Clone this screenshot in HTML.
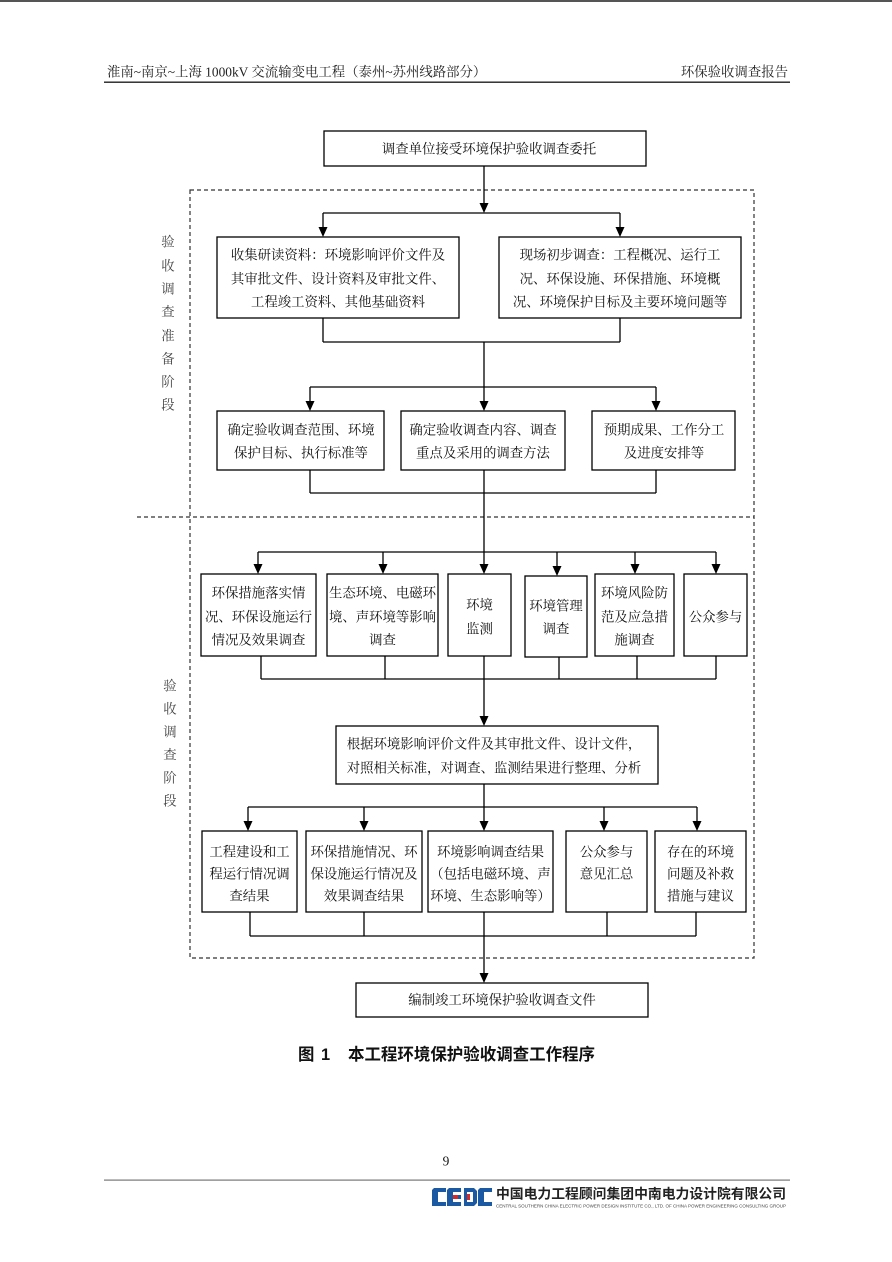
<!DOCTYPE html>
<html><head><meta charset="utf-8">
<style>
html,body{margin:0;padding:0;background:#fff;}
svg{display:block;}
.t{font-family:"Liberation Serif","Noto Serif CJK SC",serif;font-size:13.4px;fill:#111;}
.s{font-family:"Liberation Serif","Noto Serif CJK SC",serif;font-size:13.4px;fill:#444;}
.h{font-family:"Liberation Serif","Noto Serif CJK SC",serif;font-size:13.4px;fill:#222;}
.c{font-family:"Liberation Sans","Noto Sans CJK SC",sans-serif;font-size:16.4px;font-weight:bold;fill:#111;}
.b{fill:#fff;stroke:#000;stroke-width:1.3;}
.l{fill:none;stroke:#000;stroke-width:1.3;}
</style></head><body>
<svg width="892" height="1262" viewBox="0 0 892 1262" xmlns="http://www.w3.org/2000/svg">
<rect x="0" y="0" width="892" height="2" fill="#555"/>

<!-- header -->
<text class="h" x="107" y="72" dominant-baseline="central">淮南~南京~上海 1000kV 交流输变电工程（泰州~苏州线路部分）</text>
<text class="h" x="788" y="72" dominant-baseline="central" text-anchor="end">环保验收调查报告</text>
<rect x="104" y="81.5" width="686" height="1.4" fill="#222"/>

<!-- dashed regions -->
<rect x="190" y="190" width="564" height="768" fill="none" stroke="#333" stroke-width="1.2" stroke-dasharray="4 3"/>
<path d="M137 517 H754" fill="none" stroke="#333" stroke-width="1.2" stroke-dasharray="4 3"/>

<!-- stage labels -->
<g class="s" text-anchor="middle" dominant-baseline="central">
<text x="168" y="242" dominant-baseline="central">验</text>
<text x="168" y="266" dominant-baseline="central">收</text>
<text x="168" y="289" dominant-baseline="central">调</text>
<text x="168" y="312" dominant-baseline="central">查</text>
<text x="168" y="336" dominant-baseline="central">准</text>
<text x="168" y="359" dominant-baseline="central">备</text>
<text x="168" y="382" dominant-baseline="central">阶</text>
<text x="168" y="405" dominant-baseline="central">段</text>
<text x="170" y="686" dominant-baseline="central">验</text>
<text x="170" y="709" dominant-baseline="central">收</text>
<text x="170" y="732" dominant-baseline="central">调</text>
<text x="170" y="755" dominant-baseline="central">查</text>
<text x="170" y="778" dominant-baseline="central">阶</text>
<text x="170" y="801" dominant-baseline="central">段</text>
</g>

<!-- connectors -->
<path class="l" d="M484 166 V205 M323 213 H620 M323 213 V229 M620 213 V229
M323 318 V342 M620 318 V342 M323 342 H620 M484 342 V403 M310 387 H656 M310 387 V403 M656 387 V403
M310 470 V493 M656 470 V493 M310 493 H656 M484 470 V566 M258 552 H716
M258 552 V566 M383 552 V566 M557 552 V568 M635 552 V566 M716 552 V566
M261 656 V679 M385 656 V679 M484 656 V718 M559 657 V679 M637 656 V679 M716 656 V679 M261 679 H716
M484 784 V823 M248 807 H697 M248 807 V823 M364 807 V823 M604 807 V823 M697 807 V823
M250 912 V936 M364 912 V936 M484 912 V975 M607 912 V936 M696 912 V936 M250 936 H696"/>

<!-- arrowheads -->
<g fill="#000">
<polygon points="479.5,203 488.5,203 484,213"/>
<polygon points="318.5,227 327.5,227 323,237"/>
<polygon points="615.5,227 624.5,227 620,237"/>
<polygon points="305.5,401 314.5,401 310,411"/>
<polygon points="479.5,401 488.5,401 484,411"/>
<polygon points="651.5,401 660.5,401 656,411"/>
<polygon points="253.5,564 262.5,564 258,574"/>
<polygon points="378.5,564 387.5,564 383,574"/>
<polygon points="479.5,564 488.5,564 484,574"/>
<polygon points="552.5,566 561.5,566 557,576"/>
<polygon points="630.5,564 639.5,564 635,574"/>
<polygon points="711.5,564 720.5,564 716,574"/>
<polygon points="479.5,716 488.5,716 484,726"/>
<polygon points="243.5,821 252.5,821 248,831"/>
<polygon points="359.5,821 368.5,821 364,831"/>
<polygon points="479.5,821 488.5,821 484,831"/>
<polygon points="599.5,821 608.5,821 604,831"/>
<polygon points="692.5,821 701.5,821 697,831"/>
<polygon points="479.5,973 488.5,973 484,983"/>
</g>

<!-- boxes -->
<rect class="b" x="324" y="131" width="322" height="35"/>
<rect class="b" x="217" y="237" width="242" height="81"/>
<rect class="b" x="499" y="237" width="242" height="81"/>
<rect class="b" x="217" y="411" width="167" height="59"/>
<rect class="b" x="401" y="411" width="164" height="59"/>
<rect class="b" x="592" y="411" width="143" height="59"/>
<rect class="b" x="201" y="574" width="115" height="82"/>
<rect class="b" x="327" y="574" width="111" height="82"/>
<rect class="b" x="448" y="574" width="63" height="82"/>
<rect class="b" x="525" y="576" width="62" height="81"/>
<rect class="b" x="595" y="574" width="79" height="82"/>
<rect class="b" x="684" y="574" width="63" height="82"/>
<rect class="b" x="336" y="726" width="322" height="58"/>
<rect class="b" x="202" y="831" width="95" height="81"/>
<rect class="b" x="306" y="831" width="116" height="81"/>
<rect class="b" x="428" y="831" width="125" height="81"/>
<rect class="b" x="566" y="831" width="81" height="81"/>
<rect class="b" x="655" y="831" width="91" height="81"/>
<rect class="b" x="356" y="983" width="292" height="34"/>

<!-- box text -->
<g class="t" text-anchor="middle">
<text x="489" y="149" dominant-baseline="central">调查单位接受环境保护验收调查委托</text>

<text x="338" y="255" dominant-baseline="central">收集研读资料：环境影响评价文件及</text>
<text x="338" y="279" dominant-baseline="central">其审批文件、设计资料及审批文件、</text>
<text x="338" y="302" dominant-baseline="central">工程竣工资料、其他基础资料</text>

<text x="620" y="255" dominant-baseline="central">现场初步调查：工程概况、运行工</text>
<text x="620" y="279" dominant-baseline="central">况、环保设施、环保措施、环境概</text>
<text x="620" y="302" dominant-baseline="central">况、环境保护目标及主要环境问题等</text>

<text x="301" y="430" dominant-baseline="central">确定验收调查范围、环境</text>
<text x="301" y="453" dominant-baseline="central">保护目标、执行标准等</text>
<text x="483" y="430" dominant-baseline="central">确定验收调查内容、调查</text>
<text x="483" y="453" dominant-baseline="central">重点及采用的调查方法</text>
<text x="664" y="430" dominant-baseline="central">预期成果、工作分工</text>
<text x="664" y="453" dominant-baseline="central">及进度安排等</text>

<text x="258.5" y="593" dominant-baseline="central">环保措施落实情</text>
<text x="258.5" y="617" dominant-baseline="central">况、环保设施运行</text>
<text x="258.5" y="640" dominant-baseline="central">情况及效果调查</text>
<text x="382.5" y="593" dominant-baseline="central">生态环境、电磁环</text>
<text x="382.5" y="617" dominant-baseline="central">境、声环境等影响</text>
<text x="382.5" y="640" dominant-baseline="central">调查</text>
<text x="479.5" y="605" dominant-baseline="central">环境</text>
<text x="479.5" y="629" dominant-baseline="central">监测</text>
<text x="556" y="606" dominant-baseline="central">环境管理</text>
<text x="556" y="629" dominant-baseline="central">调查</text>
<text x="634.5" y="593" dominant-baseline="central">环境风险防</text>
<text x="634.5" y="617" dominant-baseline="central">范及应急措</text>
<text x="634.5" y="640" dominant-baseline="central">施调查</text>
<text x="715.5" y="617" dominant-baseline="central">公众参与</text>

<text x="494" y="744" dominant-baseline="central">根据环境影响评价文件及其审批文件、设计文件，</text>
<text x="494" y="768" dominant-baseline="central">对照相关标准，对调查、监测结果进行整理、分析</text>

<text x="249.5" y="852" dominant-baseline="central">工程建设和工</text>
<text x="249.5" y="874" dominant-baseline="central">程运行情况调</text>
<text x="249.5" y="896" dominant-baseline="central">查结果</text>
<text x="364" y="852" dominant-baseline="central">环保措施情况、环</text>
<text x="364" y="874" dominant-baseline="central">保设施运行情况及</text>
<text x="364" y="896" dominant-baseline="central">效果调查结果</text>
<text x="490.5" y="852" dominant-baseline="central">环境影响调查结果</text>
<text x="490.5" y="874" dominant-baseline="central">（包括电磁环境、声</text>
<text x="490.5" y="896" dominant-baseline="central">环境、生态影响等）</text>
<text x="606.5" y="852" dominant-baseline="central">公众参与</text>
<text x="606.5" y="874" dominant-baseline="central">意见汇总</text>
<text x="700.5" y="852" dominant-baseline="central">存在的环境</text>
<text x="700.5" y="874" dominant-baseline="central">问题及补救</text>
<text x="700.5" y="896" dominant-baseline="central">措施与建议</text>

<text x="502" y="1000" dominant-baseline="central">编制竣工环境保护验收调查文件</text>
</g>

<!-- caption -->
<text class="c" x="298" y="1055" dominant-baseline="central">图</text>
<text class="c" x="321" y="1055" dominant-baseline="central">1</text>
<text class="c" x="348" y="1055" dominant-baseline="central" textLength="247" lengthAdjust="spacingAndGlyphs">本工程环境保护验收调查工作程序</text>

<!-- footer -->
<text class="t" x="446" y="1161" text-anchor="middle" dominant-baseline="central">9</text>
<rect x="104" y="1179.5" width="686" height="1.2" fill="#777"/>

<!-- logo -->
<g>
  <path d="M434 1188 H446 V1192 H438 V1202 H446 V1206 H432 V1190 Z" fill="#1b5aa3"/>
  <path d="M449 1188 H461 V1192 H453 V1195 H461 V1199 H453 V1202 H461 V1206 H447 V1190 Z" fill="#1b5aa3"/>
  <rect x="453" y="1195" width="5" height="4" fill="#d42a2a"/>
  <path d="M464 1188 H474 L477 1191 V1203 L474 1206 H464 Z" fill="#1b5aa3"/>
  <rect x="467" y="1192" width="6" height="10" fill="#fff"/>
  <rect x="467" y="1194" width="3" height="6" fill="#d42a2a"/>
  <path d="M480 1188 H492 V1192 H484 V1202 H492 V1206 H478 V1190 Z" fill="#1b5aa3"/>
</g>
<text x="496" y="1194" dominant-baseline="central" textLength="290" lengthAdjust="spacingAndGlyphs" style="font-family:'Liberation Sans','Noto Sans CJK SC',sans-serif;font-size:13.6px;font-weight:bold;fill:#222;">中国电力工程顾问集团中南电力设计院有限公司</text>
<text x="496" y="1206" dominant-baseline="central" textLength="290" lengthAdjust="spacingAndGlyphs" style="font-family:'Liberation Sans',sans-serif;font-size:4.6px;fill:#444;">CENTRAL SOUTHERN CHINA ELECTRIC POWER DESIGN INSTITUTE CO., LTD. OF CHINA POWER ENGINEERING CONSULTING GROUP</text>
</svg>
</body></html>
